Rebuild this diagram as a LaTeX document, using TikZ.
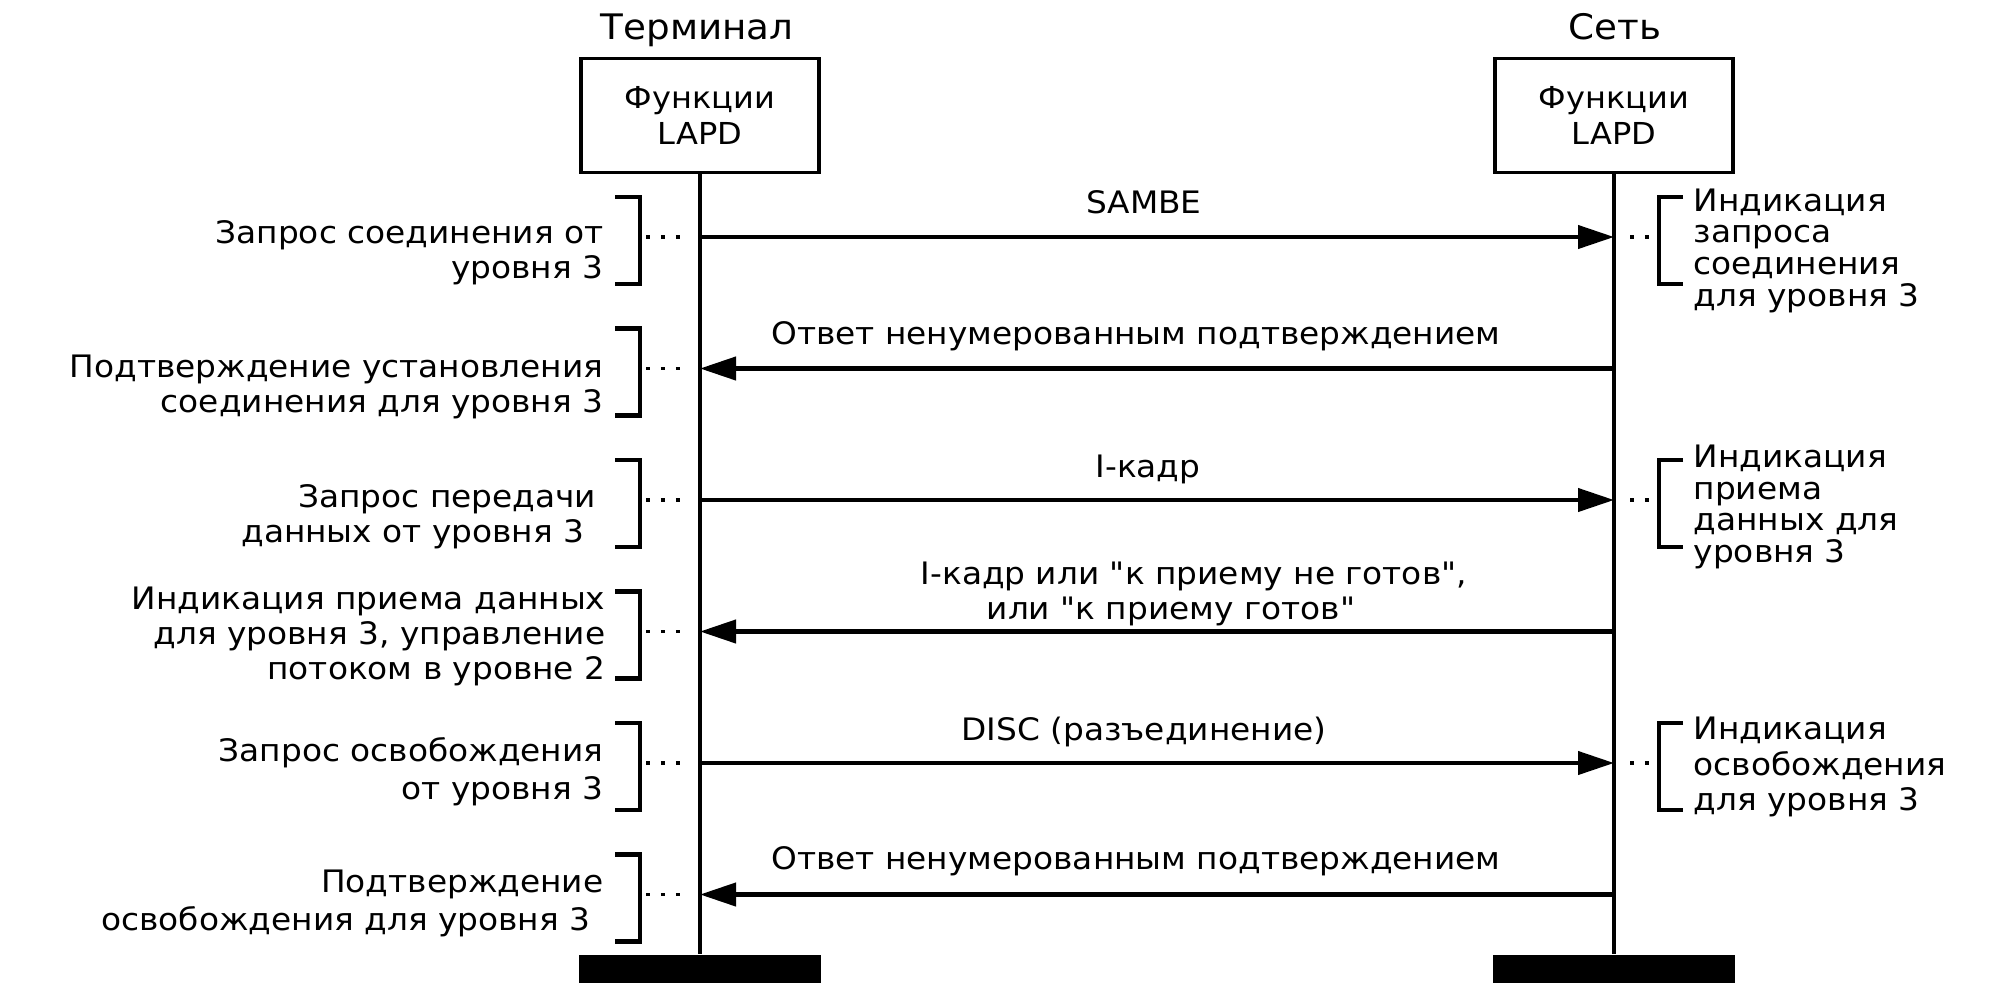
\documentclass[tikz,border=0pt]{standalone}
\usepackage{fontspec}
\setmainfont{DejaVu Sans}[FakeStretch=1.06]
\newfontfamily\qfont{DejaVu Sans}[FakeStretch=1.06]
\newcommand{\dq}{{\qfont\char34}}
\usepackage{tikz}
\usetikzlibrary{arrows.meta}

\begin{document}
\begin{tikzpicture}
\tikzstyle{func}=[rectangle,draw,line width=1.1pt,minimum width=2.38cm,minimum height=1.14cm,align=center,font=\fontsize{8.6}{10.5}\selectfont]
\tikzstyle{side}=[font=\fontsize{10}{12}\selectfont,anchor=base]
\tikzstyle{bar}=[rectangle,fill,inner sep=0pt,minimum width=2.42cm,minimum height=0.28cm]
\tikzstyle{life}=[line width=1pt]
\tikzstyle{msg}=[line width=1.2pt,-{Triangle[length=0.36cm,width=0.23cm]}]
\tikzstyle{lbl}=[font={\fontsize{8.8}{10}\selectfont\lineskiplimit=-5pt},anchor=base,inner sep=0pt]
\tikzstyle{prim}=[font={\fontsize{8.8}{10}\selectfont\lineskiplimit=-5pt},align=right,anchor=east,inner sep=0pt]
\tikzstyle{ind}=[font={\fontsize{8.8}{9}\selectfont\lineskiplimit=-5pt},align=left,anchor=west,inner sep=0pt]
\tikzstyle{brk}=[line width=1.2pt]
\tikzstyle{dots}=[line width=1.1pt,dash pattern=on 1.1pt off 3.15pt]

\useasboundingbox (0,0) rectangle (19.89,-10.07) ;

\node[side] (term) at (6.97,-0.39) {Терминал} ;
\node[side] (net)  at (16.15,-0.39) {Сеть} ;
\node[func] (tf) at (7.00,-1.155) {Функции\\LAPD} ;
\node[func] (nf) at (16.14,-1.155) {Функции\\LAPD} ;
\node[bar]  (tb) at (7.00,-9.69) {} ;
\node[bar]  (nb) at (16.14,-9.69) {} ;
\draw[life] (tf) -- (tb) ;
\draw[life] (nf) -- (nb) ;

\coordinate (t1) at (7.00,-2.37) ;
\coordinate (t2) at (7.00,-3.685) ;
\coordinate (t3) at (7.00,-5.00) ;
\coordinate (t4) at (7.00,-6.315) ;
\coordinate (t5) at (7.00,-7.63) ;
\coordinate (t6) at (7.00,-8.945) ;
\coordinate (s1) at (16.14,-2.37) ;
\coordinate (s2) at (16.14,-3.685) ;
\coordinate (s3) at (16.14,-5.00) ;
\coordinate (s4) at (16.14,-6.315) ;
\coordinate (s5) at (16.14,-7.63) ;
\coordinate (s6) at (16.14,-8.945) ;

\draw[msg] (t1) -- (s1) ;
\draw[msg] (s2) -- (t2) ;
\draw[msg] (t3) -- (s3) ;
\draw[msg] (s4) -- (t4) ;
\draw[msg] (t5) -- (s5) ;
\draw[msg] (s6) -- (t6) ;

\node[lbl] (m1) at (11.44,-2.13) {SAMBE} ;
\node[lbl] (m2) at (11.36,-3.44) {Ответ ненумерованным подтверждением} ;
\node[lbl] (m3) at (11.48,-4.77) {I-кадр} ;
\node[lbl,align=left,anchor=north west] (m4) at (9.20,-5.61) {I-кадр или \dq к приему не готов\dq,\\\hspace*{0.66cm}или \dq к приему готов\dq} ;
\node[lbl] (m5) at (11.44,-7.40) {DISC (разъединение)} ;
\node[lbl] (m6) at (11.36,-8.69) {Ответ ненумерованным подтверждением} ;

\draw[brk] (6.15,-1.97) -- (6.40,-1.97) -- (6.40,-2.84) -- (6.15,-2.84) ;
\draw[brk] (6.15,-3.285) -- (6.40,-3.285) -- (6.40,-4.155) -- (6.15,-4.155) ;
\draw[brk] (6.15,-4.60) -- (6.40,-4.60) -- (6.40,-5.47) -- (6.15,-5.47) ;
\draw[brk] (6.15,-5.915) -- (6.40,-5.915) -- (6.40,-6.785) -- (6.15,-6.785) ;
\draw[brk] (6.15,-7.23) -- (6.40,-7.23) -- (6.40,-8.10) -- (6.15,-8.10) ;
\draw[brk] (6.15,-8.545) -- (6.40,-8.545) -- (6.40,-9.415) -- (6.15,-9.415) ;
\draw[brk] (16.83,-1.97) -- (16.59,-1.97) -- (16.59,-2.84) -- (16.83,-2.84) ;
\draw[brk] (16.83,-4.60) -- (16.59,-4.60) -- (16.59,-5.47) -- (16.83,-5.47) ;
\draw[brk] (16.83,-7.23) -- (16.59,-7.23) -- (16.59,-8.10) -- (16.83,-8.10) ;

\coordinate (b1) at (6.46,-2.37) ;
\coordinate (b2) at (6.46,-3.685) ;
\coordinate (b3) at (6.46,-5.00) ;
\coordinate (b4) at (6.46,-6.315) ;
\coordinate (b5) at (6.46,-7.63) ;
\coordinate (b6) at (6.46,-8.945) ;
\coordinate (r1) at (16.52,-2.37) ;
\coordinate (r3) at (16.52,-5.00) ;
\coordinate (r5) at (16.52,-7.63) ;

\draw[dots,shorten >=0.18cm] (b1) -- (t1) ;
\draw[dots,shorten >=0.18cm] (b2) -- (t2) ;
\draw[dots,shorten >=0.18cm] (b3) -- (t3) ;
\draw[dots,shorten >=0.18cm] (b4) -- (t4) ;
\draw[dots,shorten >=0.18cm] (b5) -- (t5) ;
\draw[dots,shorten >=0.18cm] (b6) -- (t6) ;
\draw[dots,shorten <=0.16cm] (s1) -- (r1) ;
\draw[dots,shorten <=0.16cm] (s3) -- (r3) ;
\draw[dots,shorten <=0.16cm] (s5) -- (r5) ;

\node[prim] (p1) at (6.04,-2.525) {Запрос соединения от\\уровня 3} ;
\node[prim] (p2) at (6.04,-3.87) {Подтверждение установления\\соединения для уровня 3} ;
\node[prim] (p3) at (5.97,-5.17) {Запрос передачи\\данных от уровня 3\hspace*{0.12cm}} ;
\node[prim] (p4) at (6.06,-6.365) {Индикация приема данных\\для уровня 3, управление\\потоком в уровне 2} ;
\node[prim,font={\fontsize{8.8}{10.8}\selectfont}] (p5) at (6.04,-7.715) {Запрос освобождения\\от уровня 3} ;
\node[prim,font={\fontsize{8.8}{10.8}\selectfont}] (p6) at (6.04,-9.03) {Подтверждение\\освобождения для уровня 3\hspace*{0.13cm}} ;

\node[ind] (n1) at (16.93,-2.505) {Индикация\\запроса\\соединения\\для уровня 3} ;
\node[ind] (n3) at (16.93,-5.07) {Индикация\\приема\\данных для\\уровня 3} ;
\node[ind,font={\fontsize{8.8}{10.2}\selectfont}] (n5) at (16.93,-7.67) {Индикация\\освобождения\\для уровня 3} ;

\end{tikzpicture}
\end{document}
